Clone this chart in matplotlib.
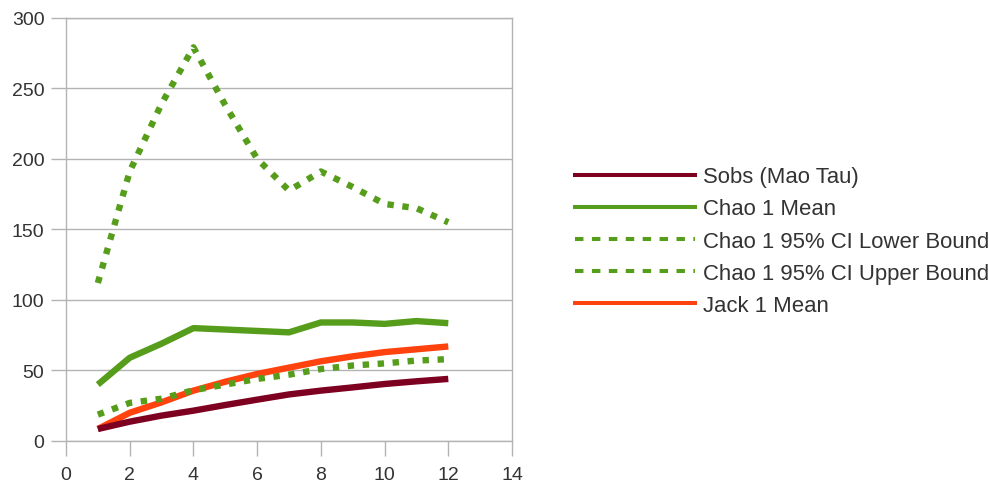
import matplotlib
matplotlib.use("Agg")
import matplotlib.pyplot as plt
from matplotlib.lines import Line2D

plt.rcParams['font.family'] = ['Liberation Sans', 'DejaVu Sans']

samples = [1, 2, 3, 4, 5, 6, 7, 8, 9, 10, 11, 12]
sobs = [8.5, 13.7, 18, 21.5, 25.5, 29.3, 33, 35.7, 38, 40.4, 42.3, 44]
chao1_mean = [40, 59, 69, 80, 79, 78, 77, 84, 84, 83, 85, 83.5]
chao1_lower = [18.7, 27, 30, 36, 40, 44, 47, 51, 53.5, 55, 57, 58]
chao1_upper = [112, 191, 239, 279, 238, 200, 177.5, 191, 180, 168, 165, 155]
jack1_mean = [8.5, 20, 27.4, 35.7, 42, 47.5, 52, 56.5, 60, 63, 65, 67]

labels = ["Sobs (Mao Tau)", "Chao 1 Mean", "Chao 1 95% CI Lower Bound",
          "Chao 1 95% CI Upper Bound", "Jack 1 Mean"]
c_sobs = "#7E0021"
c_green = "#579D1C"
c_jack = "#FF420E"

fig = plt.figure(figsize=(9.89, 4.85), dpi=100)
ax = fig.add_axes([66 / 989, 1 - 442 / 485, (512 - 66) / 989, (442 - 18.7) / 485])

lw = 4.6
ax.plot(samples, sobs, color=c_sobs, lw=lw, solid_capstyle='butt', zorder=3)
ax.plot(samples, chao1_mean, color=c_green, lw=lw, solid_capstyle='butt', zorder=3)
ax.plot(samples, chao1_lower, color=c_green, lw=lw, dashes=(1, 1.35),
        dash_capstyle='butt', zorder=3)
ax.plot(samples, chao1_upper, color=c_green, lw=lw, dashes=(1, 1.35),
        dash_capstyle='butt', zorder=3)
ax.plot(samples, jack1_mean, color=c_jack, lw=lw, solid_capstyle='butt', zorder=2.9)

ax.set_xlim(0, 14)
ax.set_ylim(0, 300)
ax.set_xticks(range(0, 15, 2))
ax.set_yticks(range(0, 301, 50))
ax.yaxis.grid(True, color="#b3b3b3", lw=1)
ax.set_axisbelow(True)
for s in ax.spines.values():
    s.set_color("#b3b3b3")
    s.set_linewidth(1)
ax.tick_params(axis='both', colors="#b3b3b3", labelcolor="#333333",
               labelsize=14, length=11, width=1, direction='out')
ax.tick_params(axis='y', pad=4.5)
ax.tick_params(axis='x', pad=7)

lh = 2.9
handles = [
    Line2D([], [], color=c_sobs, lw=lh),
    Line2D([], [], color=c_green, lw=lh),
    Line2D([], [], color=c_green, lw=lh, dashes=(2.1, 2.1), dash_capstyle='butt'),
    Line2D([], [], color=c_green, lw=lh, dashes=(2.1, 2.1), dash_capstyle='butt'),
    Line2D([], [], color=c_jack, lw=lh),
]
leg = fig.legend(handles, labels, loc='center left',
                 bbox_to_anchor=(575 / 989, 1 - 242 / 485),
                 frameon=False, fontsize=15.9, handlelength=5.45,
                 handletextpad=0.36, labelspacing=0.5, borderpad=0,
                 borderaxespad=0)
for t in leg.get_texts():
    t.set_color("#333333")

fig.savefig("out.png", dpi=100)
